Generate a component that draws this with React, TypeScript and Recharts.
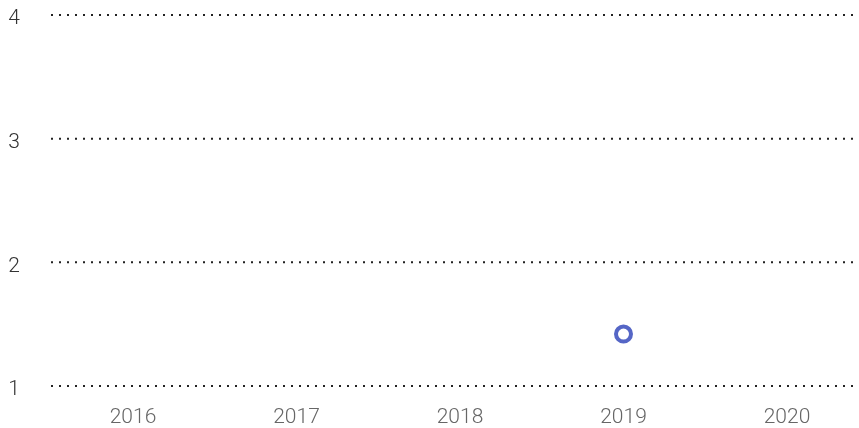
import { LineChart, Line, XAxis, YAxis, CartesianGrid } from 'recharts'

const years = ['2016', '2017', '2018', '2019', '2020']
const values: (number | null)[] = [null, null, null, 1.42, null]
const yTicks = [1, 2, 3, 4]

const data = years.map((year, i) => ({ year, value: values[i] }))

const tickFont = { fontFamily: 'Roboto', fontWeight: 300, fontSize: 21 }

export default function App() {
  return (
    <div style={{ position: 'fixed', top: 0, left: 0, width: 859, height: 428, overflow: 'hidden' }}>
      <LineChart width={869} height={428} data={data} margin={{ top: 15, right: 0, left: 0, bottom: 0 }}>
        <CartesianGrid vertical={false} stroke="#222" strokeWidth={2} strokeDasharray="2 6" />
        <XAxis
          dataKey="year"
          axisLine={false}
          tickLine={false}
          height={42}
          tickMargin={16}
          padding={{ left: 82, right: 82 }}
          tick={{ ...tickFont, fill: '#666' }}
        />
        <YAxis
          domain={[1, 4]}
          ticks={yTicks}
          axisLine={false}
          tickLine={false}
          width={51}
          tickMargin={25}
          tick={{ ...tickFont, fill: '#333', dy: 2 }}
        />
        <Line
          dataKey="value"
          stroke="none"
          dot={{ r: 7.5, fill: '#fff', stroke: '#5566c6', strokeWidth: 4 }}
          isAnimationActive={false}
        />
      </LineChart>
    </div>
  )
}
